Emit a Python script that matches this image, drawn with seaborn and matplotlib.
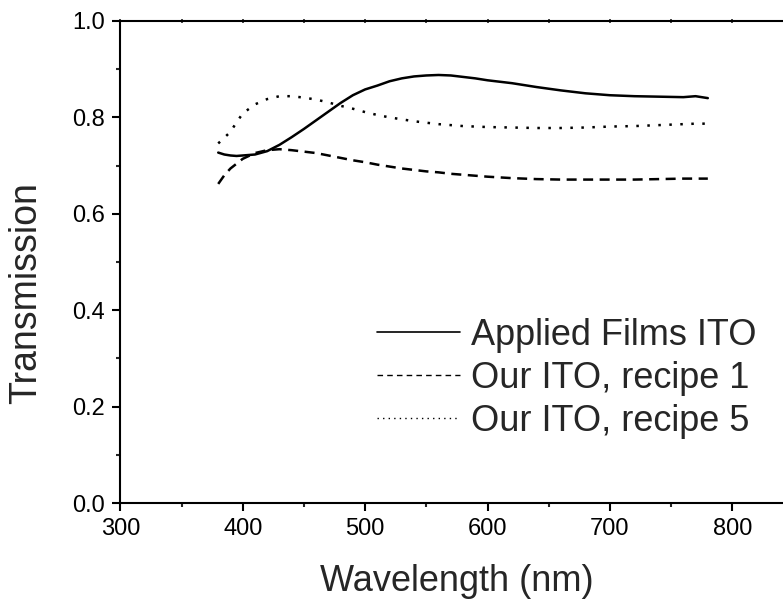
import matplotlib
matplotlib.use("Agg")
import matplotlib.pyplot as plt
from matplotlib.lines import Line2D
from matplotlib.ticker import MultipleLocator
import numpy as np
import pandas as pd
import seaborn as sns

# Wavelength grid (nm)
wavelength = [380, 385, 390, 395, 400, 410, 420, 430, 440, 450, 460, 470, 480,
              490, 500, 510, 520, 530, 540, 550, 560, 570, 580, 590, 600, 620,
              640, 660, 680, 700, 720, 740, 760, 770, 780]

# Transmission spectra
applied_films = [0.727, 0.723, 0.721, 0.720, 0.721, 0.723, 0.730, 0.743, 0.759,
                 0.776, 0.794, 0.812, 0.830, 0.846, 0.858, 0.866, 0.875, 0.881,
                 0.885, 0.887, 0.888, 0.887, 0.884, 0.881, 0.877, 0.871, 0.863,
                 0.856, 0.850, 0.846, 0.844, 0.843, 0.842, 0.844, 0.840]
recipe_1 = [0.662, 0.680, 0.694, 0.704, 0.714, 0.726, 0.732, 0.734, 0.732,
            0.729, 0.726, 0.721, 0.716, 0.711, 0.707, 0.702, 0.698, 0.694,
            0.691, 0.688, 0.686, 0.683, 0.681, 0.679, 0.677, 0.674, 0.672,
            0.671, 0.671, 0.671, 0.671, 0.672, 0.673, 0.673, 0.673]
recipe_5 = [0.746, 0.758, 0.770, 0.790, 0.808, 0.827, 0.838, 0.844, 0.844,
            0.841, 0.837, 0.831, 0.824, 0.818, 0.811, 0.805, 0.800, 0.796,
            0.792, 0.789, 0.786, 0.784, 0.782, 0.781, 0.780, 0.779, 0.778,
            0.778, 0.779, 0.781, 0.782, 0.784, 0.786, 0.787, 0.787]

series_names = ["Applied Films ITO", "Our ITO, recipe 1", "Our ITO, recipe 5"]

df = pd.concat([
    pd.DataFrame({"Wavelength": wavelength, "Transmission": vals, "Sample": name})
    for name, vals in zip(series_names, [applied_films, recipe_1, recipe_5])
], ignore_index=True)

sns.set_style("ticks")
plt.rcParams["font.family"] = ["Liberation Sans", "DejaVu Sans"]

fig = plt.figure(figsize=(7.83, 6.02), dpi=100)
W, H = 783, 602
x0, x1 = 120.3, 793.5
y_top, y_bot = 21, 503
ax = fig.add_axes([x0 / W, (H - y_bot) / H, (x1 - x0) / W, (y_bot - y_top) / H])

line_styles = {
    "Applied Films ITO": "",
    "Our ITO, recipe 1": (4.0, 2.6),
    "Our ITO, recipe 5": (1.0, 3.4),
}
sns.lineplot(data=df, x="Wavelength", y="Transmission", style="Sample",
             style_order=series_names, dashes=line_styles, color="black",
             linewidth=1.8, legend=False, ax=ax)

ax.set_xlim(300, 850)
ax.set_ylim(0.0, 1.0)
ax.xaxis.set_major_locator(MultipleLocator(100))
ax.xaxis.set_minor_locator(MultipleLocator(50))
ax.yaxis.set_major_locator(MultipleLocator(0.2))
ax.yaxis.set_minor_locator(MultipleLocator(0.1))
ax.yaxis.set_major_formatter(plt.FormatStrFormatter("%.1f"))

for side in ["left", "bottom", "top", "right"]:
    ax.spines[side].set_linewidth(1.5)
    ax.spines[side].set_color("black")

ax.tick_params(which="major", direction="out", length=6, width=1.5,
               labelsize=17, pad=5, colors="black")
ax.tick_params(which="minor", direction="out", length=3, width=1.5)

# small marks along the top frame
top = ax.secondary_xaxis("top")
top.xaxis.set_major_locator(MultipleLocator(50))
top.tick_params(direction="inout", length=3, width=1.2, labeltop=False)
top.spines["top"].set_visible(False)

ax.set_xlabel("Wavelength (nm)", fontsize=26)
ax.set_ylabel("Transmission", fontsize=27)
ax.xaxis.set_label_coords(0.5, -0.127)
ax.yaxis.set_label_coords(-0.113, 0.436)

handles = [
    Line2D([], [], color="black", linewidth=1.2, linestyle="-"),
    Line2D([], [], color="black", linewidth=1.0, linestyle=(0, (4, 3))),
    Line2D([], [], color="black", linewidth=1.0, linestyle=(0, (1, 3))),
]
ax.legend(handles, series_names, loc="upper left",
          bbox_to_anchor=((377 - x0) / (x1 - x0), (y_bot - 318) / (y_bot - y_top)),
          frameon=False, fontsize=26, handlelength=2.3, handletextpad=0.3,
          labelspacing=0.22, borderpad=0, borderaxespad=0)

fig.savefig("out.png", dpi=100)
